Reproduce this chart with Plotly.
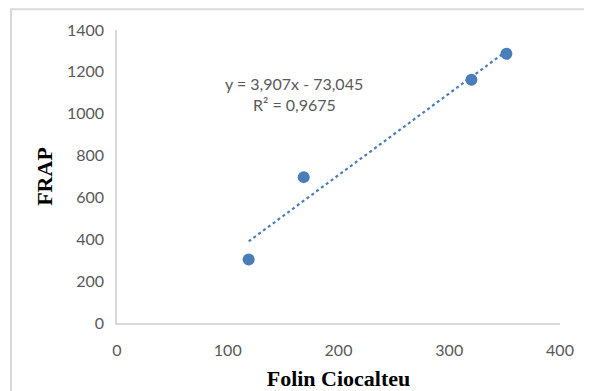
import numpy as np
import plotly.graph_objects as go

folin = [118.9, 168.6, 320.0, 351.6]
frap = [303, 697, 1162, 1286]
eq_text = "y = 3,907x - 73,045"
r2_text = "R² = 0,9675"
x_title = "Folin Ciocalteu"
y_title = "FRAP"

slope, intercept = np.polyfit(folin, frap, 1)
tx = [min(folin), max(folin)]
ty = [slope * v + intercept for v in tx]

fig = go.Figure()
fig.add_trace(go.Scatter(x=tx, y=ty, mode="lines",
                         line=dict(color="#4a7ebb", width=2.2, dash="dot"),
                         hoverinfo="skip", showlegend=False))
fig.add_trace(go.Scatter(x=folin, y=frap, mode="markers",
                         marker=dict(color="#4a7ebb", size=12),
                         showlegend=False))

tickfont = dict(family="Lato, Open Sans, sans-serif", size=16, color="#595959")
titlefont = dict(family="Liberation Serif, Times New Roman, serif", size=22, color="#000000")

L, T, PW, PH = 109, 22, 443, 293

fig.update_layout(
    width=592, height=391,
    margin=dict(l=L, r=592 - L - PW, t=T, b=391 - T - PH),
    paper_bgcolor="white", plot_bgcolor="white",
    xaxis=dict(range=[0, 400], dtick=100, showgrid=False, zeroline=False,
               showline=True, linecolor="#d9d9d9", linewidth=1.5,
               ticks="", tickfont=tickfont, ticklabelstandoff=12,
               title=dict(text="<b>" + x_title + "</b>", font=titlefont, standoff=13)),
    yaxis=dict(range=[0, 1400], dtick=200, showgrid=False, zeroline=False,
               showline=True, linecolor="#d9d9d9", linewidth=1.5,
               ticks="", tickfont=tickfont, ticklabelstandoff=8,
               title=dict(text="<b>" + y_title + "</b>", font=titlefont, standoff=8)),
    shapes=[dict(type="rect", xref="paper", yref="paper",
                 x0=(3 - L) / PW, x1=2, y0=-2, y1=(T + PH - 1.2) / PH,
                 line=dict(color="#d9d9d9", width=2), layer="below")],
    annotations=[
        dict(x=(286 - L) / PW, y=(T + PH - 64) / PH, xref="paper", yref="paper",
             text=eq_text, showarrow=False,
             font=dict(family="Lato, Open Sans, sans-serif", size=16, color="#595959")),
        dict(x=(286 - L) / PW, y=(T + PH - 85) / PH, xref="paper", yref="paper",
             text=r2_text, showarrow=False,
             font=dict(family="Lato, Open Sans, sans-serif", size=16, color="#595959")),
    ],
)

fig.write_html("out.html")
